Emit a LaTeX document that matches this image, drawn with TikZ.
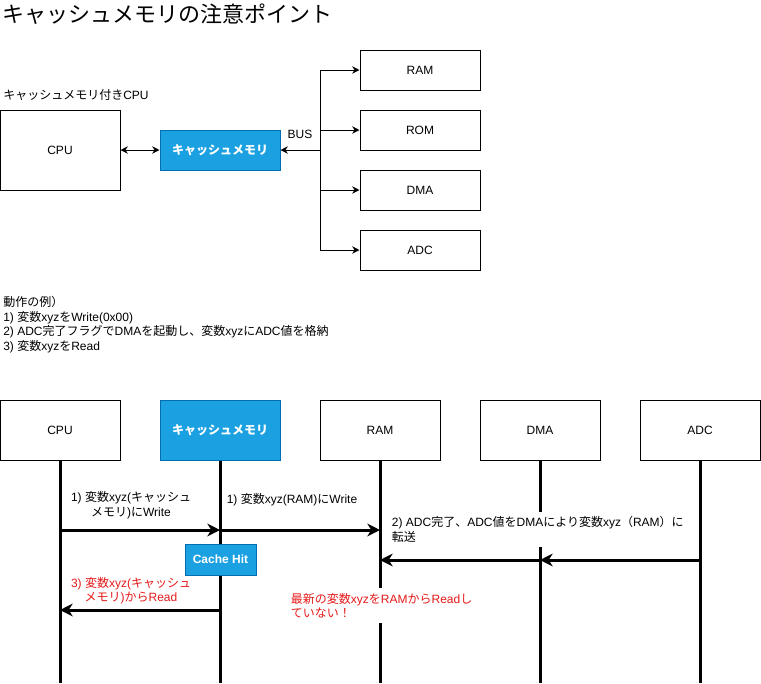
\documentclass[tikz,border=0pt]{standalone}
\usepackage{fontspec}
\setmainfont{Liberation Sans}
\newfontfamily\jp{Noto Sans CJK JP}
\usetikzlibrary{arrows.meta}
\definecolor{cblue}{HTML}{1BA1E2}
\definecolor{cbluedk}{HTML}{006EAF}
\definecolor{cred}{HTML}{E51A1A}
\newcommand\J[1]{{\jp #1}}
\begin{document}
\begin{tikzpicture}[x=0.75pt,y=-0.75pt,
 every node/.style={font=\fontsize{9}{10.875}\selectfont, inner sep=0pt},
 box/.style={draw=black, line width=0.75pt, fill=white, minimum width=90pt},
 bluebox/.style={draw=cbluedk, line width=0.75pt, fill=cblue, text=white, font=\fontsize{9}{10.875}\selectfont\bfseries, minimum width=90pt},
 thinarrow/.style={line width=0.75pt, -{Stealth[length=5.5pt,width=5.5pt,inset=1.8pt]}},
 thinboth/.style={line width=0.75pt, {Stealth[length=5.5pt,width=5.5pt,inset=1.8pt]}-{Stealth[length=5.5pt,width=5.5pt,inset=1.8pt]}},
 life/.style={line width=2.25pt},
 msg/.style={line width=2.25pt, -{Stealth[length=9.5pt,width=9.5pt,inset=3pt]}},
 lbl/.style={align=center},
 note/.style={align=left, fill=white, inner xsep=2pt, inner ysep=3.5pt},
]
\fill[white] (0,0) rectangle (761,683);
\useasboundingbox (0,0) rectangle (761,683);

% title
\node[anchor=west, font=\fontsize{16.5}{20}\selectfont] (title) at (2,14) {\J{キャッシュメモリの注意ポイント}};

% ---- top block diagram ----
\node[anchor=west] (sub) at (3,95) {\J{キャッシュメモリ付き}CPU};
\node[box, minimum height=60pt] (cpu1) at (60,150) {CPU};
\node[bluebox, minimum height=30pt] (cache1) at (220,150) {\J{キャッシュメモリ}};
\node[box, minimum height=30pt] (ram1) at (420,70) {RAM};
\node[box, minimum height=30pt] (rom1) at (420,130) {ROM};
\node[box, minimum height=30pt] (dma1) at (420,190) {DMA};
\node[box, minimum height=30pt] (adc1) at (420,250) {ADC};
\coordinate (bus) at (320,150);
\node (buslbl) at (300,134) {BUS};

\draw[thinboth] (cpu1.east) -- (cache1.west);
\draw[thinarrow] (bus) -- (cache1.east);
\draw[thinarrow] (bus) |- (ram1.west);
\draw[thinarrow] (bus) |- (rom1.west);
\draw[thinarrow] (bus) |- (dma1.west);
\draw[thinarrow] (bus) |- (adc1.west);

% ---- description ----
\node[anchor=north west, align=left] (desc) at (3,296) {\J{動作の例）}\\
1) \J{変数}xyz\J{を}Write(0x00)\\
2) ADC\J{完了フラグで}DMA\J{を起動し、変数}xyz\J{に}ADC\J{値を格納}\\
3) \J{変数}xyz\J{を}Read};

% ---- sequence diagram ----
\coordinate (cpuE) at (60,683);
\coordinate (cacheE) at (220,683);
\coordinate (ramE) at (380,683);
\coordinate (dmaE) at (540,683);
\coordinate (adcE) at (700,683);

\node[box, minimum height=45pt] (cpu2) at (60,430) {CPU};
\node[bluebox, minimum height=45pt] (cache2) at (220,430) {\J{キャッシュメモリ}};
\node[box, minimum height=45pt] (ram2) at (380,430) {RAM};
\node[box, minimum height=45pt] (dma2) at (540,430) {DMA};
\node[box, minimum height=45pt] (adc2) at (700,430) {ADC};

\draw[life] (cpu2.south) -- (cpuE);
\draw[life] (cache2.south) -- (cacheE);
\draw[life] (ram2.south) -- (ramE);
\draw[life] (dma2.south) -- (dmaE);
\draw[life] (adc2.south) -- (adcE);

\coordinate (m1a) at (60,530);
\coordinate (m1b) at (220,530);
\coordinate (m2b) at (380,530);
\coordinate (m3a) at (700,560);
\coordinate (m3b) at (540,560);
\coordinate (m4b) at (380,560);
\coordinate (m5a) at (220,610);
\coordinate (m5b) at (60,610);

\draw[msg] (m1a) -- (m1b);
\draw[msg] (m1b) -- (m2b);
\draw[msg] (m3a) -- (m3b);
\draw[msg] (m3b) -- (m4b);
\draw[msg] (m5a) -- (m5b);

\node[bluebox, minimum width=53.25pt, minimum height=23.25pt] (hit) at (220.5,559.5) {Cache Hit};

\node[lbl] (l1) at (131,505) {1) \J{変数}xyz(\J{キャッシュ}\\\J{メモリ})\J{に}Write};
\node[lbl] (l2) at (292,500) {1) \J{変数}xyz(RAM)\J{に}Write};
\node[note, anchor=west] (l3) at (389,529.5) {2) ADC\J{完了、}ADC\J{値を}DMA\J{により変数}xyz\J{（}RAM\J{）に}\\\J{転送}};
\node[lbl, text=cred] (l5) at (131,590.5) {3) \J{変数}xyz(\J{キャッシュ}\\\J{メモリ})\J{から}Read};
\node[note, anchor=west, text=cred] (warn) at (288,605.5) {\J{最新の変数}xyz\J{を}RAM\J{から}Read\J{し}\\\J{ていない！}};
\end{tikzpicture}
\end{document}
